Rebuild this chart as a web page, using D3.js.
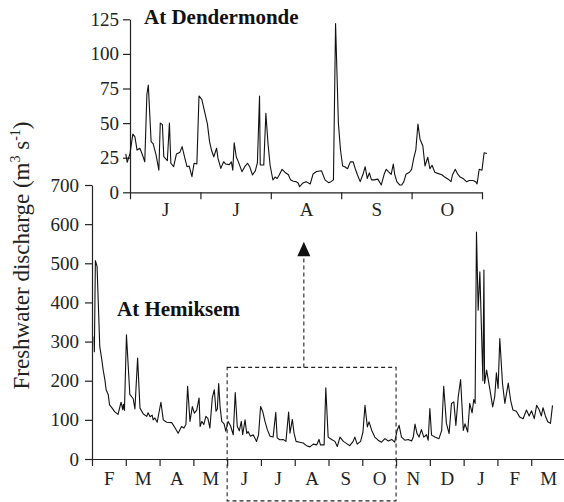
<!DOCTYPE html>
<html>
<head>
<meta charset="utf-8">
<script src="https://cdn.jsdelivr.net/npm/d3@7"></script>
<style>
  body { margin: 0; background: #fff; }
  svg { display: block; font-family: 'Liberation Serif', 'Times New Roman', serif; }
  .axis path, .axis line { stroke: #222; stroke-width: 1.2px; }
  .axis text { font-size: 19px; fill: #222; font-family: 'Liberation Serif', 'Times New Roman', serif; }
  .title { font-size: 21px; font-weight: bold; fill: #111; }
</style>
</head>
<body>
<script>
// month labels, main chart runs Feb -> Mar of next year, inset is Jun -> Oct
const hemMonths = ['F', 'M', 'A', 'M', 'J', 'J', 'A', 'S', 'O', 'N', 'D', 'J', 'F', 'M']
const denMonths = ['J', 'J', 'A', 'S', 'O']
const hemYTicks = [0, 100, 200, 300, 400, 500, 600, 700]
const denYTicks = [0, 25, 50, 75, 100, 125]

// [month index from 1 Feb, discharge m3/s]
const hemiksem = [
  [0.06, 313], [0.07, 274], [0.10, 507], [0.15, 492], [0.23, 287], [0.29, 254], [0.33, 228], [0.38, 203],
  [0.42, 176], [0.48, 165], [0.52, 138], [0.58, 132], [0.67, 121], [0.77, 114], [0.86, 145], [0.91, 126],
  [0.93, 140], [0.96, 124], [1.02, 317], [1.12, 165], [1.22, 154], [1.27, 128], [1.35, 258], [1.42, 130],
  [1.52, 115], [1.62, 109], [1.66, 118], [1.72, 108], [1.78, 112], [1.81, 100], [1.86, 105], [1.93, 94],
  [1.99, 122], [2.04, 145], [2.11, 100], [2.21, 94], [2.36, 93], [2.46, 79], [2.55, 66], [2.65, 83],
  [2.72, 79], [2.78, 88], [2.83, 186], [2.90, 96], [2.97, 134], [3.03, 117], [3.10, 125], [3.17, 156],
  [3.20, 83], [3.25, 96], [3.31, 88], [3.37, 109], [3.43, 104], [3.49, 79], [3.56, 156], [3.62, 177],
  [3.67, 122], [3.71, 128], [3.75, 193], [3.79, 134], [3.84, 96], [3.91, 90], [3.96, 71], [4.03, 96],
  [4.10, 85], [4.18, 62], [4.24, 170], [4.30, 83], [4.36, 72], [4.42, 96], [4.46, 62], [4.53, 100],
  [4.58, 65], [4.62, 70], [4.69, 58], [4.77, 62], [4.87, 45], [4.93, 62], [4.99, 134], [5.05, 122],
  [5.12, 96], [5.19, 75], [5.27, 58], [5.36, 56], [5.44, 119], [5.48, 54], [5.56, 49], [5.66, 50],
  [5.74, 45], [5.82, 120], [5.86, 66], [5.93, 101], [5.98, 66], [6.04, 45], [6.15, 43], [6.25, 41],
  [6.35, 34], [6.45, 31], [6.55, 38], [6.65, 36], [6.72, 50], [6.76, 36], [6.87, 36], [6.92, 182],
  [6.99, 56], [7.09, 50], [7.19, 45], [7.26, 32], [7.34, 56], [7.44, 45], [7.53, 40], [7.63, 34],
  [7.73, 45], [7.78, 56], [7.85, 38], [7.95, 45], [8.02, 69], [8.08, 137], [8.15, 82], [8.20, 95],
  [8.28, 73], [8.37, 56], [8.47, 48], [8.57, 43], [8.67, 52], [8.77, 46], [8.87, 50], [8.96, 43],
  [9.03, 73], [9.09, 86], [9.16, 56], [9.26, 48], [9.36, 50], [9.46, 46], [9.51, 56], [9.56, 89],
  [9.62, 65], [9.68, 56], [9.75, 75], [9.82, 56], [9.90, 62], [9.95, 48], [10.00, 129], [10.05, 61],
  [10.15, 56], [10.27, 52], [10.35, 73], [10.41, 186], [10.49, 91], [10.57, 65], [10.64, 142], [10.71, 146],
  [10.77, 86], [10.84, 159], [10.91, 203], [10.99, 73], [11.04, 90], [11.12, 69], [11.18, 142], [11.25, 118],
  [11.30, 152], [11.34, 142], [11.38, 580], [11.43, 380], [11.48, 478], [11.57, 200], [11.60, 483], [11.62, 193],
  [11.68, 227], [11.78, 176], [11.86, 133], [11.92, 159], [11.97, 220], [12.02, 180], [12.07, 308], [12.15, 193],
  [12.22, 142], [12.32, 194], [12.39, 150], [12.46, 125], [12.56, 122], [12.66, 107], [12.76, 103], [12.86, 125],
  [12.94, 110], [13.01, 123], [13.09, 103], [13.16, 137], [13.23, 127], [13.30, 110], [13.35, 131], [13.42, 110],
  [13.49, 95], [13.57, 91], [13.63, 137]
]

// [month index from 1 Jun, discharge m3/s]
const dendermonde = [
  [-0.06, 27.7], [-0.04, 21.7], [0.00, 28], [0.04, 42], [0.07, 40], [0.10, 30.5], [0.14, 31.8], [0.17, 28],
  [0.21, 22], [0.24, 70.8], [0.26, 77.5], [0.30, 36.6], [0.33, 35], [0.37, 27], [0.41, 16], [0.43, 50],
  [0.46, 49], [0.48, 25.7], [0.53, 22.8], [0.56, 50], [0.58, 21], [0.62, 18.5], [0.66, 27.7], [0.71, 29],
  [0.74, 33], [0.78, 24.5], [0.81, 18.5], [0.84, 19], [0.88, 11.3], [0.91, 21], [0.95, 20.5], [0.98, 69.6],
  [1.02, 67.2], [1.07, 55.9], [1.10, 49.3], [1.13, 36.6], [1.16, 30], [1.19, 25.7], [1.23, 31.8], [1.25, 24.5],
  [1.29, 17.3], [1.33, 22.1], [1.36, 20.4], [1.41, 20], [1.44, 22], [1.46, 16], [1.48, 35.8], [1.51, 25.5],
  [1.54, 22], [1.59, 14.9], [1.63, 18.5], [1.67, 21], [1.70, 18.5], [1.74, 12.5], [1.78, 15.5], [1.81, 21.5],
  [1.84, 69.6], [1.85, 19.7], [1.90, 19.7], [1.93, 57], [1.96, 35.4], [1.99, 19.5], [2.03, 8.9], [2.06, 11],
  [2.09, 10], [2.12, 12.5], [2.16, 16.6], [2.20, 14.5], [2.25, 12.7], [2.28, 9], [2.32, 8], [2.36, 7.7],
  [2.39, 6.5], [2.41, 4], [2.45, 6.5], [2.50, 7.7], [2.56, 6], [2.60, 13.2], [2.65, 15], [2.72, 15.6],
  [2.77, 9], [2.82, 7], [2.85, 7.5], [2.89, 9], [2.92, 122], [2.96, 50], [2.99, 30.6], [3.02, 19],
  [3.05, 18.5], [3.09, 17], [3.13, 22], [3.17, 22], [3.20, 17], [3.23, 12.7], [3.27, 7.7], [3.31, 13],
  [3.34, 18.5], [3.37, 10], [3.40, 14], [3.43, 9], [3.47, 9], [3.52, 9.5], [3.57, 5.3], [3.61, 13],
  [3.64, 16.6], [3.67, 15], [3.71, 13], [3.74, 20.4], [3.76, 13], [3.79, 7.7], [3.83, 5.3], [3.86, 5.3],
  [3.89, 7.7], [3.92, 13], [3.97, 14.5], [4.00, 16.6], [4.03, 24.5], [4.06, 30.6], [4.09, 49.3], [4.12, 38.3],
  [4.16, 33.5], [4.19, 19], [4.23, 25.3], [4.26, 17], [4.29, 19.5], [4.33, 14.5], [4.38, 13.5], [4.43, 12.7],
  [4.47, 11], [4.52, 9.5], [4.56, 7.7], [4.58, 12.5], [4.62, 16.6], [4.65, 13.5], [4.69, 11], [4.73, 10],
  [4.78, 7.7], [4.82, 8.5], [4.87, 8.5], [4.91, 7.7], [4.93, 6], [4.96, 16.6], [5.00, 16], [5.03, 28.6],
  [5.07, 28]
]

const width = 564
const height = 502

const svg = d3.select('body').append('svg')
  .attr('width', width)
  .attr('height', height)

// --- main chart (Hemiksem)
const x = d3.scaleLinear().domain([0, 14]).range([92, 565])
const y = d3.scaleLinear().domain([0, 700]).range([459, 185])

svg.append('g').attr('class', 'axis')
  .attr('transform', 'translate(92,0)')
  .call(d3.axisLeft(y).tickValues(hemYTicks).tickSize(7).tickSizeOuter(0).tickPadding(6))

svg.append('g').attr('class', 'axis')
  .attr('transform', 'translate(0,459)')
  .call(d3.axisBottom(x).tickValues(d3.range(15)).tickSize(7).tickSizeOuter(0).tickFormat(''))

svg.append('g').attr('class', 'axis')
  .attr('transform', 'translate(0,459)')
  .call(d3.axisBottom(x).tickValues(d3.range(14).map(i => i + 0.5)).tickSize(0).tickPadding(12.5)
    .tickFormat((d, i) => hemMonths[i]))
  .call(g => g.select('.domain').remove())

const line = d3.line()
  .x(d => x(d[0]))
  .y(d => y(d[1]))

svg.append('path')
  .datum(hemiksem)
  .attr('d', line)
  .attr('fill', 'none')
  .attr('stroke', '#111')
  .attr('stroke-width', 1.1)
  .attr('stroke-linejoin', 'round')

// dashed box round Jun - Oct and the arrow pointing up to the inset
svg.append('rect')
  .attr('x', x(4))
  .attr('y', y(234))
  .attr('width', x(9) - x(4))
  .attr('height', y(-107) - y(234))
  .attr('fill', 'none')
  .attr('stroke', '#222')
  .attr('stroke-width', 1.1)
  .attr('stroke-dasharray', '4,3')

const arrowX = x(6.27)
svg.append('line')
  .attr('x1', arrowX).attr('x2', arrowX)
  .attr('y1', y(234)).attr('y2', y(520))
  .attr('stroke', '#222')
  .attr('stroke-width', 1.1)
  .attr('stroke-dasharray', '4,3')

svg.append('path')
  .attr('d', 'M' + arrowX + ',' + y(555) + 'L' + (arrowX - 6.5) + ',' + y(518) + 'L' + (arrowX + 6.5) + ',' + y(518) + 'Z')
  .attr('fill', '#111')

svg.append('text')
  .attr('class', 'title')
  .attr('x', 117)
  .attr('y', 316)
  .text('At Hemiksem')

// --- inset (Dendermonde)
const xi = d3.scaleLinear().domain([0, 5]).range([130, 482])
const yi = d3.scaleLinear().domain([0, 125]).range([192.3, 19.3])

svg.append('g').attr('class', 'axis')
  .attr('transform', 'translate(130,0)')
  .call(d3.axisLeft(yi).tickValues(denYTicks).tickSize(7).tickSizeOuter(0).tickPadding(4))

svg.append('g').attr('class', 'axis')
  .attr('transform', 'translate(0,192.3)')
  .call(d3.axisBottom(xi).tickValues(d3.range(6)).tickSize(7).tickSizeOuter(0).tickFormat(''))

svg.append('g').attr('class', 'axis')
  .attr('transform', 'translate(0,192.3)')
  .call(d3.axisBottom(xi).tickValues(d3.range(5).map(i => i + 0.5)).tickSize(0).tickPadding(10)
    .tickFormat((d, i) => denMonths[i]))
  .call(g => g.select('.domain').remove())

const lineI = d3.line()
  .x(d => xi(d[0]))
  .y(d => yi(d[1]))

svg.append('path')
  .datum(dendermonde)
  .attr('d', lineI)
  .attr('fill', 'none')
  .attr('stroke', '#111')
  .attr('stroke-width', 1.1)
  .attr('stroke-linejoin', 'round')

svg.append('text')
  .attr('class', 'title')
  .attr('x', 144)
  .attr('y', 24)
  .text('At Dendermonde')

// y axis title with superscripts
const yTitle = svg.append('text')
  .attr('transform', 'translate(29,255.5) rotate(-90)')
  .attr('text-anchor', 'middle')
  .attr('font-size', 23)
  .attr('fill', '#222')
yTitle.append('tspan').text('Freshwater discharge (m')
yTitle.append('tspan').attr('dy', -9).attr('font-size', 14).text('3')
yTitle.append('tspan').attr('dy', 9).text(' s')
yTitle.append('tspan').attr('dy', -9).attr('font-size', 14).text('-1')
yTitle.append('tspan').attr('dy', 9).text(')')
</script>
</body>
</html>
